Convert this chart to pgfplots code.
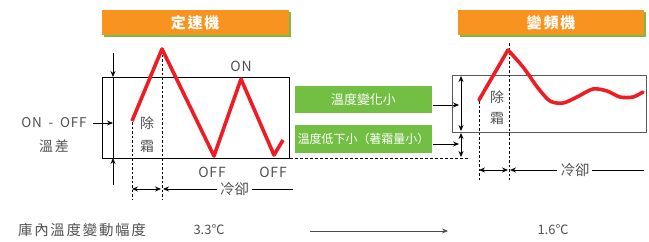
\documentclass[border=0pt]{standalone}
\usepackage{pgfplots}
\pgfplotsset{compat=1.18}
\usepackage{fontspec}
\setmainfont{Noto Sans CJK TC}
\newfontfamily\spaced[LetterSpace=12]{Noto Sans CJK TC}
\newfontfamily\wide[LetterSpace=6]{Noto Sans CJK TC}
\usetikzlibrary{arrows.meta}
\definecolor{orng}{HTML}{F7931E}
\definecolor{grn}{HTML}{72BF44}
\definecolor{rd}{HTML}{EE1C25}
\definecolor{txt}{HTML}{505050}
\begin{document}
\begin{tikzpicture}
\begin{axis}[hide axis, scale only axis, width=649bp, height=242bp,
  xmin=0, xmax=649, ymin=0, ymax=242, y dir=reverse, clip=false,
  every axis plot/.append style={line join=miter},
  tip/.style={-{Stealth[length=6bp,width=5bp]}},
  dtip/.style={{Stealth[length=6bp,width=5bp]}-{Stealth[length=6bp,width=5bp]}}]
% bounding box
\addplot[draw=none, forget plot] coordinates {(0,0) (649,242)};
% ---- title boxes ----
\addplot[fill=grn, draw=none] coordinates {(104,12) (291,12) (291,37) (104,37)} -- cycle;
\addplot[fill=orng, draw=none] coordinates {(102,10) (289,10) (289,35) (102,35)} -- cycle;
\addplot[fill=grn, draw=none] coordinates {(460,12) (646,12) (646,37) (460,37)} -- cycle;
\addplot[fill=orng, draw=none] coordinates {(458,10) (644,10) (644,35) (458,35)} -- cycle;
\node[text=white, font=\spaced\fontsize{15}{17}\selectfont\bfseries] at (axis cs:195,22.5) {定速機};
\node[text=white, font=\spaced\fontsize{15}{17}\selectfont\bfseries] at (axis cs:551,22.5) {變頻機};
% ---- left panel ----
\addplot[black, line width=0.9bp] coordinates {(102,77) (289,77) (289,158) (102,158)} -- cycle;
\addplot[black, line width=0.8bp] coordinates {(113,77) (113,158)};
\addplot[black, line width=0.8bp, tip] coordinates {(113,53) (113,77)};
\addplot[black, line width=0.8bp, tip] coordinates {(113,185) (113,158)};
\addplot[black, line width=0.8bp, tip] coordinates {(93,123) (113,123)};
\node[text=txt, font=\wide\fontsize{13.5}{15}\selectfont, anchor=east] at (axis cs:90,123) {ON\enspace-\enspace OFF};
\node[text=txt, font=\spaced\fontsize{14}{16}\selectfont] at (axis cs:54,146) {溫差};
% dotted verticals
\addplot[black, line width=0.8bp, dash pattern=on 2.5bp off 2bp] coordinates {(132,122) (132,199)};
\addplot[black, line width=0.8bp, dash pattern=on 2.5bp off 2bp] coordinates {(162,50) (162,199)};
% red zigzag
\addplot[rd, line width=3.6bp, line join=round] coordinates {(132,121) (162,49) (214,156) (241,79) (274,155) (283,140)};
\node[text=txt, font=\fontsize{14}{16}\selectfont] at (axis cs:147,123) {除};
\node[text=txt, font=\fontsize{14}{16}\selectfont] at (axis cs:147,146) {霜};
\node[text=txt, font=\wide\fontsize{14}{15}\selectfont] at (axis cs:241,66) {ON};
\node[text=txt, font=\wide\fontsize{14}{15}\selectfont] at (axis cs:212,172) {OFF};
\node[text=txt, font=\wide\fontsize{14}{15}\selectfont] at (axis cs:273,172) {OFF};
% bottom arrows
\addplot[black, line width=0.8bp, dtip] coordinates {(132,189) (161,189)};
\addplot[black, line width=0.8bp, tip] coordinates {(217,189) (163,189)};
\addplot[black, line width=0.8bp] coordinates {(252,189) (293,189)};
\node[text=txt, font=\fontsize{14.5}{16}\selectfont] at (axis cs:234.5,189) {冷卻};
% ---- middle green boxes ----
\addplot[fill=grn, draw=none] coordinates {(295,86) (432,86) (432,113) (295,113)} -- cycle;
\addplot[fill=grn, draw=none] coordinates {(295,125) (432,125) (432,153) (295,153)} -- cycle;
\node[text=white, font=\fontsize{13}{14}\selectfont] at (axis cs:363.5,99.5) {溫度變化小};
\node[text=white, font=\fontsize{12}{14}\selectfont] at (axis cs:363.5,139) {溫度低下小（著霜量小）};
\addplot[black, line width=0.8bp, tip] coordinates {(433,105) (459,105)};
\addplot[black, line width=0.8bp, tip] coordinates {(433,144) (459,144)};
\addplot[black, line width=0.8bp, dash pattern=on 3bp off 2bp] coordinates {(290,158) (470,158)};
% ---- right panel ----
\addplot[black!65, line width=0.9bp] coordinates {(452,75) (646,75) (646,132) (452,132)} -- cycle;
\addplot[black, line width=0.8bp, dtip] coordinates {(461,76) (461,131)};
\addplot[black, line width=0.8bp, dtip] coordinates {(461,133) (461,157)};
\addplot[black, line width=0.8bp, dash pattern=on 2.5bp off 2bp] coordinates {(479,101) (479,180)};
\addplot[black, line width=0.8bp, dash pattern=on 2.5bp off 2bp] coordinates {(509,43) (509,180)};
\addplot[rd, line width=3.6bp, line join=round, line cap=round] coordinates {(479,100) (508,50)};
\addplot[rd, line width=3.6bp, line join=round, line cap=round, smooth, tension=0.5] coordinates {(508,50) (523,67) (538,88) (550,101) (563,103) (577,97) (593,89) (607,91) (620,97) (633,97) (643,92)};
\node[text=txt, font=\fontsize{14}{16}\selectfont] at (axis cs:497,97) {除};
\node[text=txt, font=\fontsize{14}{16}\selectfont] at (axis cs:497,118) {霜};
\addplot[black, line width=0.8bp, dtip] coordinates {(479,170) (508,170)};
\addplot[black, line width=0.8bp, tip] coordinates {(557,170) (510,170)};
\addplot[black, line width=0.8bp] coordinates {(592,170) (644,170)};
\node[text=txt, font=\fontsize{14.5}{16}\selectfont] at (axis cs:575,170) {冷卻};
% ---- bottom row ----
\node[text=txt, font=\spaced\fontsize{14.5}{16}\selectfont] at (axis cs:82,230) {庫內溫度變動幅度};
\node[text=txt, font=\fontsize{13}{15}\selectfont] at (axis cs:209,230) {3.3℃};
\node[text=txt, font=\fontsize{13}{15}\selectfont] at (axis cs:553,230) {1.6℃};
\addplot[black!70, line width=0.9bp, tip] coordinates {(310,231) (448,231)};
\end{axis}
\end{tikzpicture}
\end{document}
